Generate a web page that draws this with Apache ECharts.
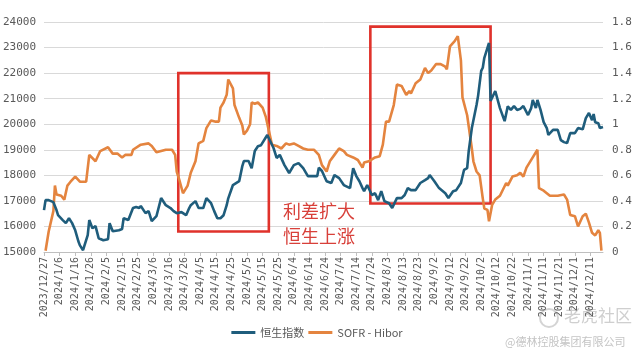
<!DOCTYPE html>
<html>
<head>
<meta charset="utf-8">
<script src="https://cdn.jsdelivr.net/npm/echarts@6/dist/echarts.min.js"></script>
<style>
  html, body { margin: 0; padding: 0; background: #fff; }
  #chart { width: 634px; height: 355px; }
</style>
</head>
<body>
<div id="chart"></div>
<script>
// 恒生指数 (左轴)
let hsiDates = ['2023/12/27','2023/12/28','2023/12/30','2024/1/2','2024/1/4','2024/1/5','2024/1/8','2024/1/10','2024/1/12','2024/1/14',
  '2024/1/16','2024/1/18','2024/1/19','2024/1/21','2024/1/24','2024/1/25','2024/1/27','2024/1/29','2024/1/31','2024/2/3',
  '2024/2/6','2024/2/7','2024/2/9','2024/2/13','2024/2/15','2024/2/16','2024/2/19','2024/2/22','2024/2/24','2024/2/26',
  '2024/2/27','2024/3/1','2024/3/3','2024/3/5','2024/3/8','2024/3/9','2024/3/11','2024/3/14','2024/3/17','2024/3/19',
  '2024/3/21','2024/3/24','2024/3/27','2024/3/29','2024/3/30','2024/4/2','2024/4/4','2024/4/7','2024/4/9','2024/4/12',
  '2024/4/14','2024/4/16','2024/4/18','2024/4/20','2024/4/22','2024/4/23','2024/4/26','2024/4/30','2024/5/2','2024/5/3',
  '2024/5/6','2024/5/8','2024/5/10','2024/5/12','2024/5/14','2024/5/18','2024/5/22','2024/5/24','2024/5/26','2024/5/29',
  '2024/6/1','2024/6/4','2024/6/7','2024/6/10','2024/6/13','2024/6/17','2024/6/19','2024/6/20','2024/6/22','2024/6/25',
  '2024/6/28','2024/6/30','2024/7/3','2024/7/6','2024/7/10','2024/7/12','2024/7/14','2024/7/16','2024/7/18','2024/7/19',
  '2024/7/21','2024/7/24','2024/7/26','2024/7/28','2024/7/30','2024/8/1','2024/8/4','2024/8/6','2024/8/9','2024/8/12',
  '2024/8/14','2024/8/16','2024/8/18','2024/8/21','2024/8/24','2024/8/27','2024/8/29','2024/8/30','2024/9/2','2024/9/5',
  '2024/9/9','2024/9/11','2024/9/14','2024/9/16','2024/9/19','2024/9/21','2024/9/23','2024/9/24','2024/9/26','2024/9/29',
  '2024/9/30','2024/10/2','2024/10/3','2024/10/4','2024/10/6','2024/10/7','2024/10/8','2024/10/11','2024/10/14','2024/10/17',
  '2024/10/19','2024/10/21','2024/10/23','2024/10/25','2024/10/27','2024/10/29','2024/11/1','2024/11/3','2024/11/4','2024/11/6',
  '2024/11/7','2024/11/9','2024/11/11','2024/11/13','2024/11/14','2024/11/17','2024/11/20','2024/11/22','2024/11/24','2024/11/26',
  '2024/11/28','2024/12/1','2024/12/3','2024/12/6','2024/12/8','2024/12/10','2024/12/12','2024/12/13','2024/12/14','2024/12/16',
  '2024/12/17','2024/12/19'];
let hsiValues = [16640,17030,17030,16950,16640,16440,16250,16130,16320,16130,
  15850,15420,15260,15070,15660,16250,15930,16010,15540,15460,
  15500,16130,15810,15850,15900,16320,16250,16720,16760,16720,
  16800,16520,16600,16210,16400,16440,17110,16830,16720,16600,
  16520,16560,16440,16720,16830,16990,16720,16720,17110,16910,
  16600,16320,16320,16440,16830,17100,17620,17770,18360,18560,
  18560,18280,18950,19140,19180,19580,19070,18680,18800,18400,
  18090,18400,18480,18280,17970,17970,17970,18300,18170,17770,
  17700,18010,17890,17620,17500,18280,17970,17770,17500,17380,
  17620,17230,17300,17030,17380,16990,16910,16720,17110,17110,
  17230,17500,17420,17420,17700,17810,17890,18010,17770,17500,
  17300,17110,17380,17420,17700,18210,18280,18950,19850,20750,
  21110,22090,22210,22600,22990,23180,20910,21300,20630,20120,
  20700,20560,20710,20560,20600,20710,20360,20630,20950,20630,
  20950,20560,20080,19850,19580,19780,19780,19380,19300,19260,
  19650,19650,19850,19800,20240,20440,20160,20400,20080,20040,
  19850,19890];

// SOFR - Hibor (右轴)
let spreadDates = ['2023/12/28','2023/12/30','2024/1/2','2024/1/3','2024/1/4','2024/1/7','2024/1/9','2024/1/11','2024/1/13','2024/1/16',
  '2024/1/19','2024/1/23','2024/1/25','2024/1/29','2024/2/1','2024/2/6','2024/2/9','2024/2/12','2024/2/15','2024/2/17',
  '2024/2/21','2024/2/22','2024/2/27','2024/3/3','2024/3/5','2024/3/8','2024/3/11','2024/3/14','2024/3/18','2024/3/20',
  '2024/3/21','2024/3/23','2024/3/25','2024/3/28','2024/3/30','2024/4/2','2024/4/4','2024/4/7','2024/4/9','2024/4/12',
  '2024/4/15','2024/4/17','2024/4/18','2024/4/20','2024/4/22','2024/4/23','2024/4/26','2024/4/27','2024/4/30','2024/5/2',
  '2024/5/3','2024/5/5','2024/5/7','2024/5/8','2024/5/10','2024/5/12','2024/5/15','2024/5/17','2024/5/19','2024/5/21',
  '2024/5/24','2024/5/27','2024/5/30','2024/6/1','2024/6/4','2024/6/7','2024/6/10','2024/6/13','2024/6/17','2024/6/20',
  '2024/6/22','2024/6/25','2024/6/27','2024/6/30','2024/7/3','2024/7/6','2024/7/8','2024/7/12','2024/7/15','2024/7/18',
  '2024/7/19','2024/7/22','2024/7/26','2024/7/29','2024/7/31','2024/8/2','2024/8/4','2024/8/7','2024/8/9','2024/8/12',
  '2024/8/15','2024/8/17','2024/8/18','2024/8/21','2024/8/24','2024/8/25','2024/8/27','2024/8/29','2024/8/31','2024/9/3',
  '2024/9/6','2024/9/9','2024/9/10','2024/9/12','2024/9/15','2024/9/17','2024/9/19','2024/9/20','2024/9/23','2024/9/26',
  '2024/9/27','2024/9/29','2024/10/1','2024/10/3','2024/10/4','2024/10/6','2024/10/7','2024/10/9','2024/10/11','2024/10/14',
  '2024/10/18','2024/10/19','2024/10/22','2024/10/25','2024/10/27','2024/10/29','2024/10/31','2024/11/1','2024/11/4','2024/11/7',
  '2024/11/8','2024/11/11','2024/11/13','2024/11/15','2024/11/20','2024/11/24','2024/11/26','2024/11/28','2024/12/1','2024/12/3',
  '2024/12/6','2024/12/8','2024/12/10','2024/12/12','2024/12/14','2024/12/16','2024/12/17','2024/12/18'];
let spreadValues = [0.01,0.16,0.32,0.52,0.45,0.44,0.41,0.52,0.55,0.59,
  0.55,0.55,0.76,0.71,0.79,0.82,0.77,0.77,0.74,0.76,
  0.76,0.80,0.84,0.85,0.83,0.78,0.79,0.80,0.80,0.76,
  0.63,0.55,0.46,0.52,0.62,0.71,0.85,0.87,0.97,1.03,
  1.02,1.02,1.13,1.17,1.23,1.35,1.28,1.15,1.05,0.99,
  0.92,0.95,1.00,1.17,1.16,1.17,1.13,1.06,0.95,0.84,
  0.83,0.81,0.85,0.84,0.85,0.83,0.81,0.80,0.80,0.76,
  0.68,0.63,0.71,0.76,0.81,0.79,0.76,0.74,0.72,0.66,
  0.70,0.71,0.74,0.75,0.84,1.02,1.02,1.15,1.31,1.30,
  1.23,1.26,1.24,1.32,1.35,1.36,1.44,1.40,1.42,1.47,
  1.47,1.45,1.43,1.61,1.65,1.69,1.50,1.21,1.07,0.81,
  0.71,0.63,0.60,0.42,0.34,0.33,0.24,0.37,0.41,0.44,
  0.54,0.52,0.59,0.60,0.62,0.59,0.66,0.67,0.74,0.80,
  0.50,0.48,0.46,0.44,0.44,0.45,0.41,0.29,0.28,0.20,
  0.28,0.30,0.23,0.15,0.13,0.17,0.15,0.01];

// 标注框 [起始日期, 结束日期, 下沿, 上沿] (左轴数值)
let boxes = [
  ['2024/3/22', '2024/5/19', 15800, 22000],
  ['2024/7/23', '2024/10/8', 16900, 23820]
];

// 日期类目，每天一个
let startDay = Date.UTC(2023, 11, 27);
let dayCount = 359;
let categories = [];
for (let i = 0; i < dayCount; i++) {
  let d = new Date(startDay + i * 86400000);
  categories.push(d.getUTCFullYear() + '/' + (d.getUTCMonth() + 1) + '/' + d.getUTCDate());
}

let zip = (a, b) => a.map((v, i) => [v, b[i]]);

let chart = echarts.init(document.getElementById('chart'));
let axisFont = { color: '#595959', fontSize: 11, fontFamily: 'DejaVu Sans Mono' };

chart.setOption({
  animation: false,
  grid: { left: 44, right: 31, top: 22, bottom: 103, containLabel: false, outerBoundsMode: 'none' },
  legend: {
    bottom: 12,
    left: 'center',
    itemWidth: 24,
    itemHeight: 3,
    itemGap: 4,
    icon: 'rect',
    textStyle: { color: '#595959', fontSize: 11, fontFamily: 'Noto Sans CJK SC' },
    data: ['恒生指数', 'SOFR - Hibor']
  },
  xAxis: {
    type: 'category',
    data: categories,
    boundaryGap: false,
    axisLine: { lineStyle: { color: '#bfbfbf' } },
    axisTick: { interval: 9, length: 4, lineStyle: { color: '#bfbfbf' } },
    axisLabel: { interval: 9, rotate: 90, margin: 5, fontSize: 10, color: '#595959', fontFamily: 'DejaVu Sans Mono' },
    splitLine: { show: false }
  },
  yAxis: [
    {
      type: 'value',
      min: 15000, max: 24000, interval: 1000,
      axisLine: { show: false },
      axisTick: { show: false },
      axisLabel: Object.assign({ margin: 8, formatter: v => String(v) }, axisFont),
      splitLine: { lineStyle: { color: '#d9d9d9' } }
    },
    {
      type: 'value',
      min: 0, max: 1.8, interval: 0.2,
      axisLine: { show: false },
      axisTick: { show: false },
      axisLabel: Object.assign({ margin: 9, formatter: v => String(+v.toFixed(1)) }, axisFont),
      splitLine: { show: false }
    }
  ],
  series: [
    {
      name: '恒生指数',
      type: 'line',
      yAxisIndex: 0,
      data: zip(hsiDates, hsiValues),
      showSymbol: false,
      color: '#1f5d7c',
      lineStyle: { width: 2.6, color: '#1f5d7c' },
      z: 3,
      markArea: {
        silent: true,
        label: { show: false },
        itemStyle: { color: 'rgba(0,0,0,0)', borderColor: '#e0322b', borderWidth: 2.6 },
        data: boxes.map(b => [
          { xAxis: b[0], yAxis: b[3] },
          { xAxis: b[1], yAxis: b[2] }
        ])
      }
    },
    {
      name: 'SOFR - Hibor',
      type: 'line',
      yAxisIndex: 1,
      data: zip(spreadDates, spreadValues),
      showSymbol: false,
      color: '#e4843f',
      lineStyle: { width: 2.6, color: '#e4843f' },
      z: 2
    }
  ],
  graphic: [
    {
      type: 'text', left: 283, top: 202,
      style: { text: '利差扩大', fill: '#d8403a', font: '18px "Noto Sans CJK SC"' }
    },
    {
      type: 'text', left: 283, top: 227,
      style: { text: '恒生上涨', fill: '#d8403a', font: '18px "Noto Sans CJK SC"' }
    },
    {
      type: 'circle', shape: { cx: 549, cy: 318, r: 9 },
      style: { fill: 'none', stroke: '#d4d4d4', lineWidth: 2 }
    },
    {
      type: 'text', left: 564, top: 307,
      style: { text: '老虎社区', fill: '#cfcfcf', font: '17px "Noto Sans CJK SC"' }
    },
    {
      type: 'text', left: 505, top: 336,
      style: { text: '@德林控股集团有限公司', fill: '#c4c4c4', font: '11px "Noto Sans CJK SC"' }
    }
  ]
});
</script>
</body>
</html>
